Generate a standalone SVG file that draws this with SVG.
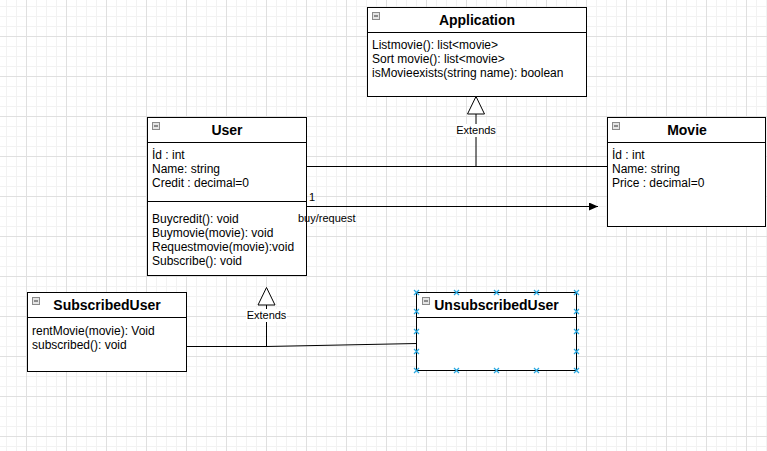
<svg xmlns="http://www.w3.org/2000/svg" width="767" height="451" viewBox="0 0 767 451">
<style>
.box{fill:#fff;stroke:#000;stroke-width:1}
.sep{stroke:#000;stroke-width:1}
.title{font-family:"Liberation Sans",Arial,sans-serif;font-size:14px;font-weight:bold;fill:#000;text-anchor:middle}
.txt{font-family:"Liberation Sans",Arial,sans-serif;font-size:12px;fill:#000}
.lbl{font-family:"Liberation Sans",Arial,sans-serif;font-size:11px;fill:#000}
.mid{text-anchor:middle}
.icon{fill:#e4e4e4;stroke:#8a8a8a;stroke-width:1}
.minus{stroke:#333;stroke-width:1}
.edge{fill:none;stroke:#000;stroke-width:1}
.gen{fill:#fff;stroke:#000;stroke-width:1}
.h{stroke:#29a8e0;stroke-width:1.2}
</style>
<defs>
<pattern id="grid" patternUnits="userSpaceOnUse" x="26" y="36" width="40" height="40">
<rect width="40" height="40" fill="#fff"/>
<path d="M10.5 0V40M20.5 0V40M30.5 0V40M0 10.5H40M0 20.5H40M0 30.5H40" stroke="#f2f2f2" stroke-width="1"/>
<path d="M0.5 0V40M0 0.5H40" stroke="#e0e0e0" stroke-width="1"/>
</pattern>
<g id="handle"><path class="h" d="M-2.5 -2.5L2.5 2.5M-2.5 2.5L2.5 -2.5"/></g>
<marker id="block" markerUnits="userSpaceOnUse" viewBox="0 0 9 8" refX="9" refY="4" markerWidth="9" markerHeight="8" orient="auto">
<path d="M0 0L9 4L0 8Z" fill="#000"/>
</marker>
</defs>
<rect width="767" height="451" fill="url(#grid)"/>

<g id="application">
<rect class="box" x="367.5" y="7.5" width="219" height="89"/>
<path class="sep" d="M367.5 32.5H586.5"/>
<rect class="icon" x="372.5" y="12.5" width="7" height="7"/>
<path class="minus" d="M374 16H378"/>
<text class="title" x="477" y="25">Application</text>
<text class="txt" x="372" y="49">Listmovie(): list&lt;movie&gt;</text>
<text class="txt" x="372" y="63">Sort movie(): list&lt;movie&gt;</text>
<text class="txt" x="372" y="77">isMovieexists(string name): boolean</text>
</g>

<g id="user">
<rect class="box" x="147.5" y="117.5" width="159" height="158"/>
<path class="sep" d="M147.5 142.5H306.5M147.5 201.5H306.5"/>
<rect class="icon" x="152.5" y="122.5" width="7" height="7"/>
<path class="minus" d="M154 126H158"/>
<text class="title" x="227" y="135">User</text>
<text class="txt" x="152" y="159">İd : int</text>
<text class="txt" x="152" y="173">Name: string</text>
<text class="txt" x="152" y="187">Credit : decimal=0</text>
<text class="txt" x="152" y="223">Buycredit(): void</text>
<text class="txt" x="152" y="237">Buymovie(movie): void</text>
<text class="txt" x="152" y="251">Requestmovie(movie):void</text>
<text class="txt" x="152" y="265">Subscribe(): void</text>
</g>

<g id="movie">
<rect class="box" x="607.5" y="117.5" width="158" height="109"/>
<path class="sep" d="M607.5 142.5H765.5"/>
<rect class="icon" x="612.5" y="122.5" width="7" height="7"/>
<path class="minus" d="M614 126H618"/>
<text class="title" x="687" y="135">Movie</text>
<text class="txt" x="612" y="159">İd : int</text>
<text class="txt" x="612" y="173">Name: string</text>
<text class="txt" x="612" y="187">Price : decimal=0</text>
</g>

<g id="subscribeduser">
<rect class="box" x="27.5" y="292.5" width="159" height="79"/>
<path class="sep" d="M27.5 317.5H186.5"/>
<rect class="icon" x="32.5" y="297.5" width="7" height="7"/>
<path class="minus" d="M34 301H38"/>
<text class="title" x="107" y="310">SubscribedUser</text>
<text class="txt" x="32" y="335">rentMovie(movie): Void</text>
<text class="txt" x="32" y="349">subscribed(): void</text>
</g>

<g id="unsubscribeduser">
<rect class="box" x="416.5" y="292.5" width="160" height="78"/>
<path class="sep" d="M416.5 317.5H576.5"/>
<rect class="icon" x="422.5" y="297.5" width="7" height="7"/>
<path class="minus" d="M424 301H428"/>
<text class="title" x="496.5" y="310">UnsubscribedUser</text>
<use href="#handle" x="416.5" y="292.5"/>
<use href="#handle" x="456.5" y="292.5"/>
<use href="#handle" x="496.5" y="292.5"/>
<use href="#handle" x="536.5" y="292.5"/>
<use href="#handle" x="576.5" y="292.5"/>
<use href="#handle" x="416.5" y="370.5"/>
<use href="#handle" x="456.5" y="370.5"/>
<use href="#handle" x="496.5" y="370.5"/>
<use href="#handle" x="536.5" y="370.5"/>
<use href="#handle" x="576.5" y="370.5"/>
<use href="#handle" x="416.5" y="311.5"/>
<use href="#handle" x="416.5" y="331.5"/>
<use href="#handle" x="416.5" y="351.5"/>
<use href="#handle" x="576.5" y="311.5"/>
<use href="#handle" x="576.5" y="331.5"/>
<use href="#handle" x="576.5" y="351.5"/>
</g>

<g id="connectors">
<path class="edge" d="M306 166.5H607"/>
<path class="edge" d="M476 166V114"/>
<polygon class="gen" points="476,96.5 467.5,114 484.5,114"/>
<rect x="456" y="124" width="40" height="13" fill="#fff"/>
<text class="lbl mid" x="476" y="134">Extends</text>
<path class="edge" d="M306 206.5H598" marker-end="url(#block)"/>
<text class="lbl" x="309" y="201">1</text>
<text class="lbl" x="298" y="222">buy/request</text>
<path class="edge" d="M186 346.5L266 346.5L417 343.5"/>
<path class="edge" d="M266.5 346V305"/>
<polygon class="gen" points="266.5,287.5 258,305 275,305"/>
<rect x="246" y="309" width="41" height="13" fill="#fff"/>
<text class="lbl mid" x="266.5" y="319">Extends</text>
</g>
</svg>
